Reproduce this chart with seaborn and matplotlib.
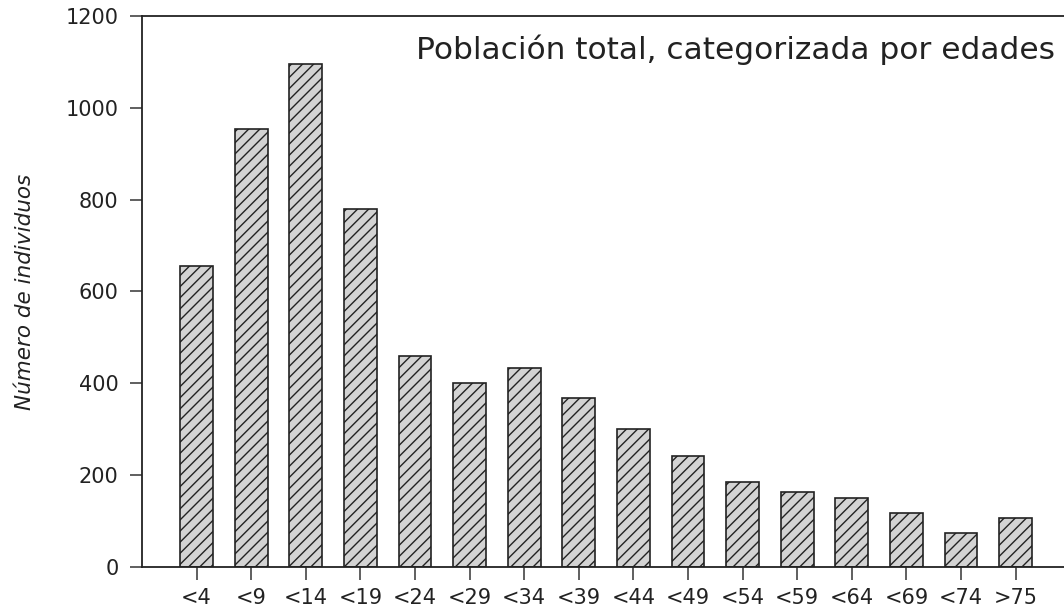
import matplotlib
matplotlib.use("Agg")
import matplotlib.pyplot as plt
import seaborn as sns
import pandas as pd

categories = ["<4", "<9", "<14", "<19", "<24", "<29", "<34", "<39", "<44", "<49",
              "<54", "<59", "<64", "<69", "<74", ">75"]
values = [656, 954, 1096, 780, 460, 401, 434, 368, 301, 242,
          185, 163, 150, 117, 73, 107]
y_ticks = [0, 200, 400, 600, 800, 1000, 1200]
title = "Población total, categorizada por edades"
ylabel = "Número de individuos"

sns.set_style("white")
plt.rcParams['font.family'] = ['DejaVu Sans']
plt.rcParams['hatch.linewidth'] = 1.0
plt.rcParams['hatch.color'] = '#222222'

df = pd.DataFrame({"cat": categories, "val": values})

W, H = 1064, 611
fig = plt.figure(figsize=(W / 100, H / 100), dpi=100)
ax = fig.add_axes([142 / W, 1 - 567 / H, (W - 142) / W, (567 - 16) / H])

sns.barplot(data=df, x="cat", y="val", ax=ax, color="#d3d3d3", saturation=1,
            edgecolor="#222222", linewidth=1.2, width=0.6, hatch="///")
for p in ax.patches:
    p.set_facecolor("#d3d3d3")
    p.set_edgecolor("#222222")

ax.set_xlim(-1, (W - 142) / 54.6 - 1)
ax.set_ylim(0, 1200)
ax.set_yticks(y_ticks)
ax.set_yticklabels([str(t) for t in y_ticks])
ax.set_xlabel("")
ax.set_ylabel(ylabel, fontsize=15.5, style="italic", color="#222222", labelpad=22)

for s in ["left", "bottom", "top"]:
    ax.spines[s].set_visible(True)
    ax.spines[s].set_color("#222222")
    ax.spines[s].set_linewidth(1.3)
ax.spines["right"].set_visible(False)

ax.tick_params(axis="both", which="major", direction="out", length=9, width=1.2,
               color="#444444", labelsize=15, labelcolor="#222222", pad=8,
               left=True, bottom=True)
ax.tick_params(axis="x", pad=6)

fig.text(1055 / W, 1 - 50 / H, title, ha="right", va="center", fontsize=22.5,
         color="#222222")

fig.savefig("out.png", dpi=100)
